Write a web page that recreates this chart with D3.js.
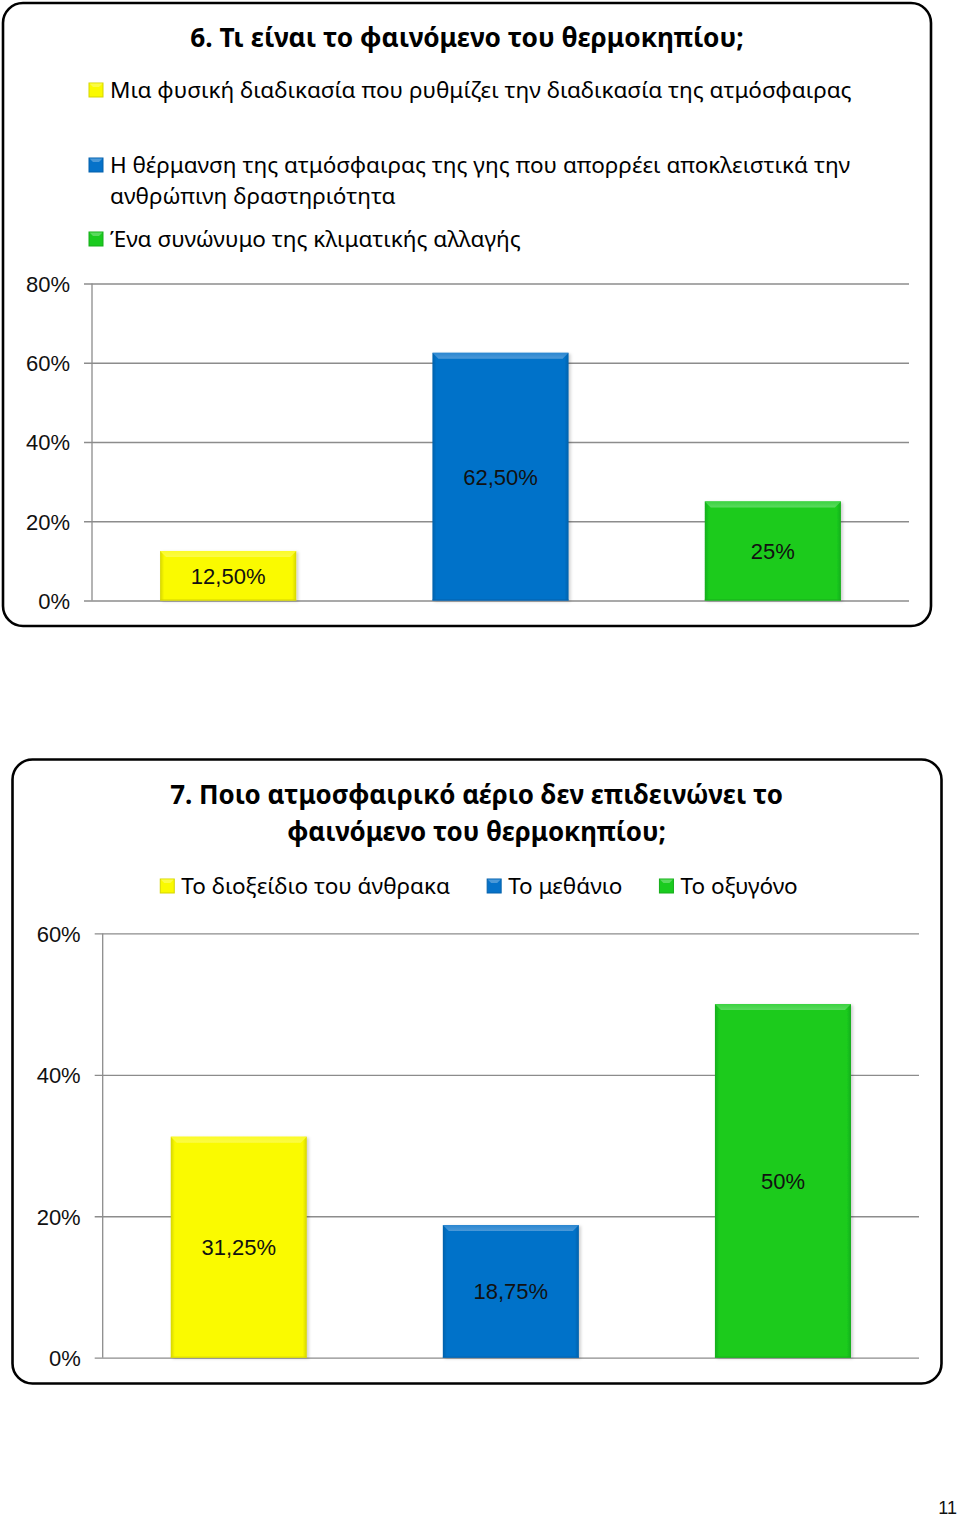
<!DOCTYPE html>
<html>
<head>
<meta charset="utf-8">
<script src="https://cdn.jsdelivr.net/npm/d3@7"></script>
<style>
  html, body { margin: 0; padding: 0; background: #fff; }
  svg { display: block; }
</style>
</head>
<body>
<svg id="chart" width="960" height="1520"></svg>
<script>
// ---------------- DATA ----------------
const chart1Title = ["6. Τι είναι το φαινόμενο του θερμοκηπίου;"];
const chart1Categories = [
  "Μια φυσική διαδικασία που ρυθμίζει την διαδικασία της ατμόσφαιρας",
  "Η θέρμανση της ατμόσφαιρας της γης που απορρέει αποκλειστικά την ανθρώπινη δραστηριότητα",
  "Ένα συνώνυμο της κλιματικής αλλαγής"
];
const chart1Values = [12.5, 62.5, 25];
const chart1Labels = ["12,50%", "62,50%", "25%"];
const chart1Ticks = [0, 20, 40, 60, 80];

const chart2Title = ["7. Ποιο ατμοσφαιρικό αέριο δεν επιδεινώνει το", "φαινόμενο του θερμοκηπίου;"];
const chart2Categories = ["Το διοξείδιο του άνθρακα", "Το μεθάνιο", "Το οξυγόνο"];
const chart2Values = [31.25, 18.75, 50];
const chart2Labels = ["31,25%", "18,75%", "50%"];
const chart2Ticks = [0, 20, 40, 60];

const seriesColors = ["#FAFA00", "#0672C9", "#1ACB1F"];
const pageNumber = "11";

// ---------------- STYLE / LAYOUT ----------------
const svg = d3.select("#chart");
const defs = svg.append("defs");
const CAL = "'Noto Sans', 'Open Sans', sans-serif";
const ARIAL = "'Liberation Sans', Arial, sans-serif";

const shades = seriesColors.map(c => ({
  base: c,
  light: d3.interpolateRgb(c, "#ffffff")(0.28),
  dark: d3.color(c).darker(0.45).formatHex()
}));
shades.forEach((s, i) => {
  const g = defs.append("linearGradient").attr("id", "bg" + i)
    .attr("x1", "0%").attr("x2", "100%").attr("y1", "0%").attr("y2", "0%");
  g.append("stop").attr("offset", "0%").attr("stop-color", s.dark);
  g.append("stop").attr("offset", "3%").attr("stop-color", s.base);
  g.append("stop").attr("offset", "97%").attr("stop-color", s.base);
  g.append("stop").attr("offset", "100%").attr("stop-color", s.dark);
  const lg = defs.append("linearGradient").attr("id", "lg" + i)
    .attr("x1", "0%").attr("x2", "0%").attr("y1", "0%").attr("y2", "100%");
  lg.append("stop").attr("offset", "0%").attr("stop-color", d3.interpolateRgb(s.base, "#fff")(0.15));
  lg.append("stop").attr("offset", "100%").attr("stop-color", s.light);
});
const f = defs.append("filter").attr("id", "shadow").attr("x", "-10%").attr("y", "-10%").attr("width", "130%").attr("height", "130%");
f.append("feDropShadow").attr("dx", 2).attr("dy", 1).attr("stdDeviation", 1.5).attr("flood-color", "#000").attr("flood-opacity", 0.18);

function fitText(sel, targetWidth, startSize) {
  sel.attr("font-size", startSize);
  const w = sel.node().getComputedTextLength();
  const size = startSize * targetWidth / w;
  sel.attr("font-size", size);
  return size;
}

function legendSquare(g, x, y, i) {
  const s = shades[i];
  g.append("rect").attr("x", x).attr("y", y).attr("width", 14).attr("height", 14)
    .attr("fill", s.base).attr("stroke", s.dark).attr("stroke-width", 1);
  g.append("path")
    .attr("d", `M${x + 0.5},${y + 0.5}L${x + 13.5},${y + 0.5}L${x + 10},${y + 4}L${x + 4},${y + 4}Z`)
    .attr("fill", s.light);
}

function drawBars(g, cfg) {
  const x = d3.scaleBand().domain(cfg.categories).range([cfg.x0, cfg.x1])
    .paddingInner(0.5).paddingOuter(0.25);
  const y = d3.scaleLinear().domain([0, d3.max(cfg.ticks)]).range([cfg.yZero, cfg.yTop]);

  const axis = d3.axisLeft(y).tickValues(cfg.ticks)
    .tickSize(-(cfg.x1 - cfg.x0 + 8)).tickPadding(14)
    .tickFormat(d => d + "%");
  const ag = g.append("g").attr("transform", `translate(${cfg.x0 - 8},0)`).call(axis);
  ag.select(".domain").remove();
  ag.selectAll(".tick line").attr("stroke", "#8c8c8c").attr("stroke-width", 1.3);
  ag.selectAll(".tick text").attr("font-family", ARIAL).attr("font-size", 22)
    .attr("fill", "#111").attr("dy", "0.36em");
  g.append("line").attr("x1", cfg.x0).attr("x2", cfg.x0)
    .attr("y1", y(d3.max(cfg.ticks))).attr("y2", y(0))
    .attr("stroke", "#8c8c8c").attr("stroke-width", 1.3);

  const bars = g.append("g").selectAll("g").data(cfg.values).join("g");
  bars.each(function (v, i) {
    const b = d3.select(this);
    const bx = x(cfg.categories[i]), bw = x.bandwidth();
    const by = y(v), bh = y(0) - y(v);
    const bev = 6;
    b.append("rect").attr("x", bx).attr("y", by).attr("width", bw).attr("height", bh)
      .attr("fill", `url(#bg${i})`).attr("filter", "url(#shadow)");
    b.append("path")
      .attr("d", `M${bx},${by}L${bx + bw},${by}L${bx + bw - bev},${by + bev}L${bx + bev},${by + bev}Z`)
      .attr("fill", `url(#lg${i})`);
    b.append("line").attr("x1", bx).attr("x2", bx + bw).attr("y1", y(0) - 0.5).attr("y2", y(0) - 0.5)
      .attr("stroke", shades[i].dark).attr("stroke-width", 1);
    b.append("text").attr("x", bx + bw / 2).attr("y", by + bh / 2)
      .attr("dy", "0.36em").attr("text-anchor", "middle")
      .attr("font-family", ARIAL).attr("font-size", 22).attr("fill", "#111")
      .text(cfg.labels[i]);
  });
}

// ---------------- CHART 1 ----------------
const g1 = svg.append("g");
g1.append("rect").attr("x", 3).attr("y", 3).attr("width", 928).attr("height", 623)
  .attr("rx", 20).attr("ry", 20).attr("fill", "#fff").attr("stroke", "#000").attr("stroke-width", 2.6);

const t1 = g1.append("text").attr("x", 467).attr("y", 47).attr("text-anchor", "middle")
  .attr("font-family", CAL).attr("font-weight", "bold").attr("fill", "#000").text(chart1Title[0]);
fitText(t1, 554, 26);

const legendX = 89, legendTextX = 110;
const leg1 = g1.append("g");
const first = leg1.append("text").attr("x", legendTextX).attr("y", 98)
  .attr("font-family", CAL).attr("fill", "#000").text(chart1Categories[0]);
const legSize = fitText(first, 742, 22);
legendSquare(leg1, legendX, 83, 0);

(function () {
  const words = chart1Categories[1].split(" ");
  const tmp = leg1.append("text").attr("font-family", CAL).attr("font-size", legSize);
  const lines = []; let cur = "";
  words.forEach(w => {
    const test = cur ? cur + " " + w : w;
    tmp.text(test);
    if (tmp.node().getComputedTextLength() > 752 && cur) { lines.push(cur); cur = w; }
    else cur = test;
  });
  lines.push(cur);
  tmp.remove();
  const t = leg1.append("text").attr("x", legendTextX).attr("y", 173)
    .attr("font-family", CAL).attr("font-size", legSize).attr("fill", "#000");
  lines.forEach((l, k) => t.append("tspan").attr("x", legendTextX).attr("dy", k === 0 ? 0 : 31).text(l));
  legendSquare(leg1, legendX, 158, 1);
})();
leg1.append("text").attr("x", legendTextX).attr("y", 247)
  .attr("font-family", CAL).attr("font-size", legSize).attr("fill", "#000").text(chart1Categories[2]);
legendSquare(leg1, legendX, 232, 2);

drawBars(g1, {
  categories: chart1Categories, values: chart1Values, labels: chart1Labels, ticks: chart1Ticks,
  x0: 92, x1: 909, yZero: 600.5, yTop: 283.5
});

// ---------------- CHART 2 ----------------
const g2 = svg.append("g");
g2.append("rect").attr("x", 12.5).attr("y", 759.5).attr("width", 929).attr("height", 624)
  .attr("rx", 20).attr("ry", 20).attr("fill", "#fff").attr("stroke", "#000").attr("stroke-width", 2.6);

const t2a = g2.append("text").attr("x", 476.5).attr("y", 804).attr("text-anchor", "middle")
  .attr("font-family", CAL).attr("font-weight", "bold").attr("fill", "#000").text(chart2Title[0]);
const t2size = fitText(t2a, 613, 26);
g2.append("text").attr("x", 476.5).attr("y", 841).attr("text-anchor", "middle")
  .attr("font-family", CAL).attr("font-weight", "bold").attr("font-size", t2size)
  .attr("fill", "#000").text(chart2Title[1]);

(function () {
  const lg = g2.append("g");
  const items = chart2Categories.map((c, i) => {
    const t = lg.append("text").attr("font-family", CAL).attr("font-size", legSize)
      .attr("fill", "#000").attr("y", 894).text(c);
    return { t, w: t.node().getComputedTextLength(), i };
  });
  const sq = 14, gapIn = 7, gapOut = 37;
  const total = d3.sum(items, d => sq + gapIn + d.w) + gapOut * (items.length - 1);
  let cx = 479 - total / 2;
  items.forEach(d => {
    legendSquare(lg, cx, 879, d.i);
    d.t.attr("x", cx + sq + gapIn);
    cx += sq + gapIn + d.w + gapOut;
  });
})();

drawBars(g2, {
  categories: chart2Categories, values: chart2Values, labels: chart2Labels, ticks: chart2Ticks,
  x0: 102.7, x1: 919, yZero: 1357.7, yTop: 933.4
});

svg.append("text").attr("x", 957).attr("y", 1514).attr("text-anchor", "end")
  .attr("font-family", ARIAL).attr("font-size", 18).attr("fill", "#111").text(pageNumber);
</script>
</body>
</html>
